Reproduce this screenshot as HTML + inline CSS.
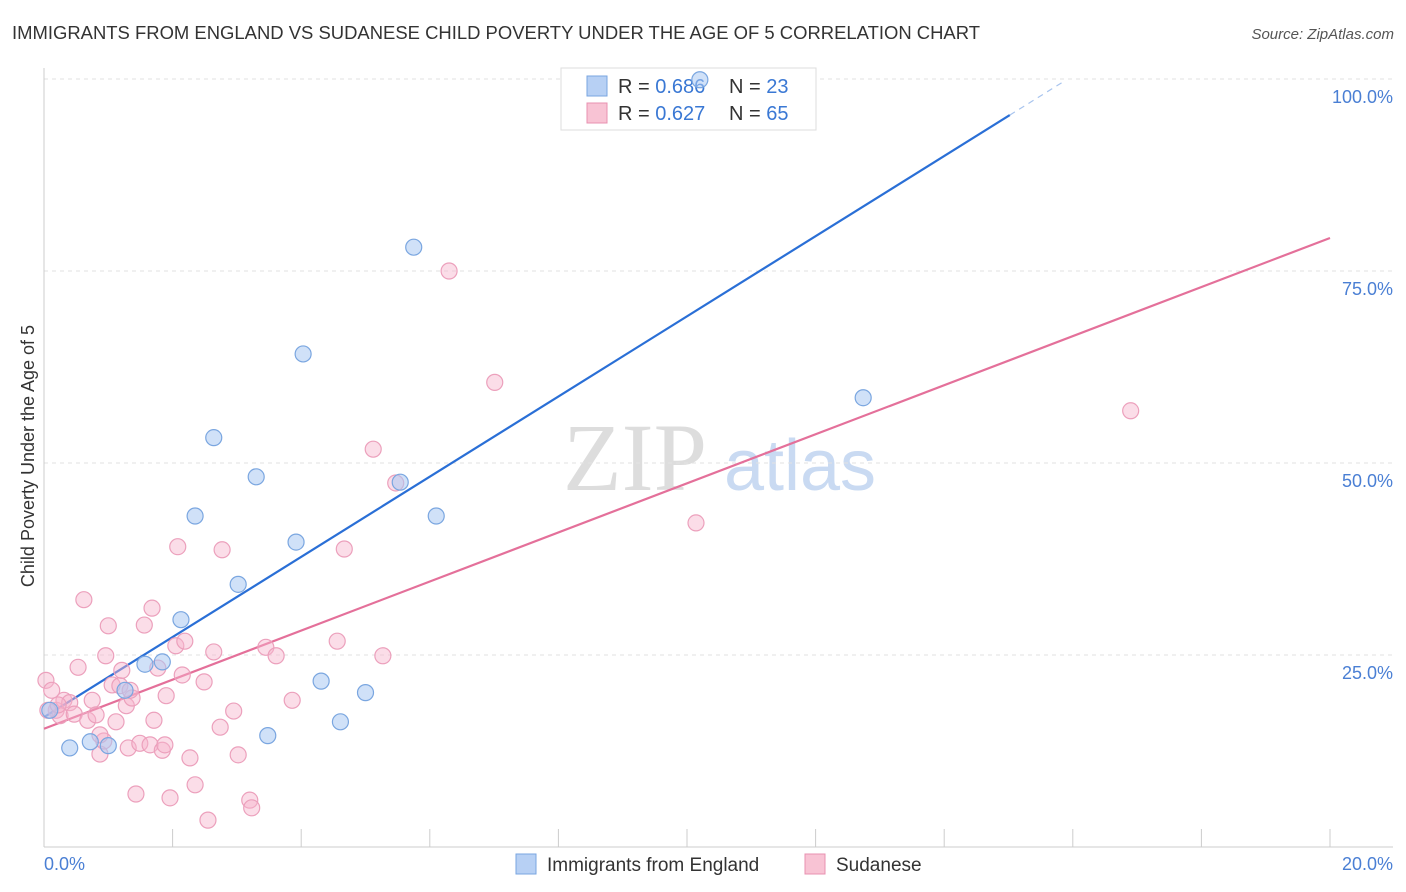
<!DOCTYPE html>
<html><head><meta charset="utf-8"><style>
body{margin:0;background:#fff;font-family:"Liberation Sans",sans-serif}
svg{display:block}
</style></head><body>
<svg id="chart" width="1406" height="892" xmlns="http://www.w3.org/2000/svg" font-family="Liberation Sans, sans-serif">
<text x="12" y="39" font-size="18" fill="#333" textLength="968" lengthAdjust="spacingAndGlyphs">IMMIGRANTS FROM ENGLAND VS SUDANESE CHILD POVERTY UNDER THE AGE OF 5 CORRELATION CHART</text>
<text x="1394" y="39" font-size="15" fill="#555" font-style="italic" text-anchor="end">Source: ZipAtlas.com</text>
<g>
<text x="635" y="490" font-size="96" fill="#ddd" font-family="Liberation Serif, serif" text-anchor="middle">ZIP</text>
<text x="800" y="490" font-size="72" fill="#c9daf2" text-anchor="middle">atlas</text>
</g>
<g id="grid"></g>
<g id="axes"></g>
<g id="lines"></g>
<g>
<rect x="561" y="68" width="255" height="62" fill="#fff" stroke="#ddd"/>
<rect x="587" y="76" width="20" height="20" fill="#b7d0f4" stroke="#7aa6e0"/>
<rect x="587" y="103" width="20" height="20" fill="#f8c3d4" stroke="#e890b0"/>
<text x="618" y="93" font-size="20" fill="#333">R = <tspan fill="#3a78d4">0.686</tspan></text>
<text x="729" y="93" font-size="20" fill="#333">N = <tspan fill="#3a78d4">23</tspan></text>
<text x="618" y="120" font-size="20" fill="#333">R = <tspan fill="#3a78d4">0.627</tspan></text>
<text x="729" y="120" font-size="20" fill="#333">N = <tspan fill="#3a78d4">65</tspan></text>
</g>
<g id="points"></g>
<text transform="translate(34,456) rotate(-90)" font-size="18" fill="#333" text-anchor="middle">Child Poverty Under the Age of 5</text>
<g>
<rect x="516" y="854" width="20" height="20" fill="#b7d0f4" stroke="#7aa6e0"/>
<text x="547" y="871" font-size="19" fill="#333">Immigrants from England</text>
<rect x="805" y="854" width="20" height="20" fill="#f8c3d4" stroke="#e890b0"/>
<text x="836" y="871" font-size="19" fill="#333">Sudanese</text>
</g>
</svg>
<script>
const englandX=[0.09,0.40,0.72,1.00,1.26,1.57,1.84,2.13,2.35,2.64,3.02,3.30,3.92,4.03,4.31,4.61,5.00,5.54,5.75,6.10,3.48,10.20,12.74];
const englandY=[17.8,12.9,13.7,13.2,20.4,23.8,24.1,29.6,43.1,53.3,34.2,48.2,39.7,64.2,21.6,16.3,20.1,47.5,78.1,43.1,14.5,99.9,58.5];
const sudanX=[0.03,0.12,0.19,0.25,0.31,0.40,0.47,0.53,0.62,0.68,0.75,0.81,0.87,0.93,0.96,1.00,1.06,1.12,1.18,1.21,1.28,1.31,1.37,1.43,1.49,1.56,1.65,1.68,1.71,1.77,1.84,1.90,1.96,2.05,2.08,2.15,2.19,2.27,2.35,2.49,2.55,2.64,2.74,2.77,2.95,3.02,3.20,3.23,3.45,3.61,3.86,4.56,4.67,5.12,5.27,5.47,6.30,7.01,10.14,16.90,0.06,0.22,0.87,1.34,1.88];
const sudanY=[21.7,20.4,17.8,17.1,19.1,18.8,17.3,23.4,32.2,16.5,19.1,17.2,12.1,13.8,24.9,28.8,21.1,16.3,21.0,23.0,18.4,12.9,19.4,6.9,13.5,28.9,13.3,31.1,16.5,23.3,12.6,19.7,6.4,26.2,39.1,22.4,26.8,11.6,8.1,21.5,3.5,25.4,15.6,38.7,17.7,12.0,6.1,5.1,26.0,24.9,19.1,26.8,38.8,51.8,24.9,47.4,75.0,60.5,42.2,56.8,17.8,18.5,14.6,20.4,13.3];
const yTicks=[25,50,75,100];
const yTickLabels=["25.0%","50.0%","75.0%","100.0%"];
const xTicks=[0,2,4,6,8,10,12,14,16,18,20];
const englandTrend=[0,16.9,15.02,95.3,15.88];
const sudanTrend=[0,15.4,20,79.3];

const NS="http://www.w3.org/2000/svg";
const X0=44,X1=1330,Y0=847,Y100=79;
const sx=v=>X0+(X1-X0)*v/20;
const sy=v=>Y0-(Y0-Y100)*v/100;
function mk(tag,attrs,parent){const e=document.createElementNS(NS,tag);for(const k in attrs)e.setAttribute(k,attrs[k]);document.getElementById(parent).appendChild(e);return e;}

yTicks.forEach((t,i)=>{
 const g=mk('line',{x1:X0,x2:1393,y1:sy(t),y2:sy(t),stroke:'#e2e2e2','stroke-dasharray':'4,4'},'grid');
 
 
 const l=mk('text',{x:1393,y:sy(t)+24,'font-size':18,fill:'#4a7fd4','text-anchor':'end'},'grid');
 l.textContent=yTickLabels[i];
 
 
});
let a=mk('line',{x1:X0,x2:X0,y1:68,y2:Y0,stroke:'#ccc'},'axes');


a=mk('line',{x1:X0,x2:1393,y1:Y0,y2:Y0,stroke:'#ccc'},'axes');


xTicks.forEach(t=>{
 const e=mk('line',{x1:sx(t),x2:sx(t),y1:Y0,y2:Y0-18,stroke:'#ccc'},'axes');
 
 
});
let t=mk('text',{x:44,y:870,'font-size':18,fill:'#4a7fd4'},'axes');t.textContent='0.0%';


t=mk('text',{x:1393,y:870,'font-size':18,fill:'#4a7fd4','text-anchor':'end'},'axes');t.textContent='20.0%';



const slopeE=(englandTrend[3]-englandTrend[1])/englandTrend[2];
let ln=mk('line',{x1:sx(0),y1:sy(englandTrend[1]),x2:sx(englandTrend[2]),y2:sy(englandTrend[3]),stroke:'#2a6fd6','stroke-width':2.2},'lines');


ln=mk('line',{x1:sx(englandTrend[2]),y1:sy(englandTrend[3]),x2:sx(englandTrend[4]),y2:sy(englandTrend[1]+slopeE*englandTrend[4]),stroke:'#a8c4ee','stroke-width':1.2,'stroke-dasharray':'6,5'},'lines');


ln=mk('line',{x1:sx(0),y1:sy(sudanTrend[1]),x2:sx(sudanTrend[2]),y2:sy(sudanTrend[3]),stroke:'#e4709a','stroke-width':2.2},'lines');



sudanX.forEach((v,i)=>{
 const c=mk('circle',{cx:sx(v),cy:sy(sudanY[i]),r:8,fill:'rgba(246,180,203,0.45)',stroke:'#eca0bc','stroke-width':1.2},'points');
 
 
});
englandX.forEach((v,i)=>{
 const c=mk('circle',{cx:sx(v),cy:sy(englandY[i]),r:8,fill:'rgba(170,200,242,0.55)',stroke:'#7aa6e0','stroke-width':1.2},'points');
 
 
});
</script>
</body></html>
